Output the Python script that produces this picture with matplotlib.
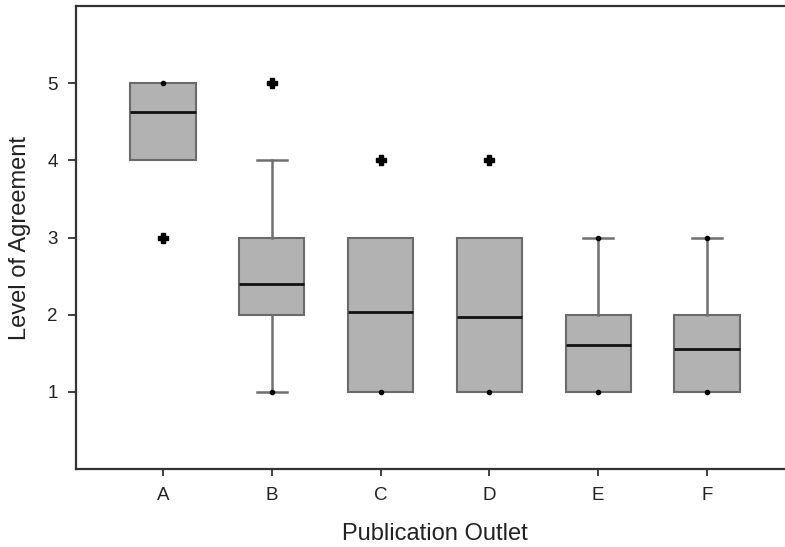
import matplotlib.pyplot as plt

plt.rcParams['font.family'] = ['Liberation Sans', 'DejaVu Sans']

# values
outlets = ['A', 'B', 'C', 'D', 'E', 'F']
medians = [4.63, 2.40, 2.04, 1.97, 1.61, 1.56]
q1 = [4, 2, 1, 1, 1, 1]
q3 = [5, 3, 3, 3, 2, 2]
whisker_low = [4, 1, 1, 1, 1, 1]
whisker_high = [5, 4, 3, 3, 3, 3]
outliers = [[3], [5], [4], [4], [], []]
end_points = [[5], [1], [1], [1], [1, 3], [1, 3]]

positions = list(range(1, len(outlets) + 1))

stats = []
for i, name in enumerate(outlets):
    stats.append({
        'label': name,
        'med': medians[i],
        'q1': q1[i],
        'q3': q3[i],
        'whislo': whisker_low[i],
        'whishi': whisker_high[i],
        'fliers': [],
    })

fig = plt.figure(figsize=(7.85, 5.47), dpi=100)
ax = fig.add_axes([76 / 785, 78 / 547, 718 / 785, 463 / 547])

bp = ax.bxp(
    stats,
    positions=positions,
    widths=0.6,
    patch_artist=True,
    showfliers=False,
    boxprops=dict(facecolor='#b2b2b2', edgecolor='#6a6a6a', linewidth=1.5),
    medianprops=dict(color='#111111', linewidth=2),
    whiskerprops=dict(color='#707070', linewidth=1.8),
    capprops=dict(color='#707070', linewidth=1.8),
    capwidths=0.28,
)

# SigmaPlot style: no cap where the whisker does not leave the box
for i in range(len(outlets)):
    if whisker_low[i] == q1[i]:
        bp['caps'][2 * i].set_visible(False)
        bp['whiskers'][2 * i].set_visible(False)
    if whisker_high[i] == q3[i]:
        bp['caps'][2 * i + 1].set_visible(False)
        bp['whiskers'][2 * i + 1].set_visible(False)

for i, pos in enumerate(positions):
    if outliers[i]:
        ax.plot([pos] * len(outliers[i]), outliers[i], linestyle='none',
                marker='P', markersize=6.5, color='black', zorder=4)
    ax.plot([pos] * len(end_points[i]), end_points[i], linestyle='none',
            marker='o', markersize=3, color='black', zorder=4)

ax.set_xlim(0.2, 6.8)
ax.set_ylim(0, 6)
ax.set_yticks([1, 2, 3, 4, 5])
ax.set_xticks(positions)
ax.set_xticklabels(outlets)

ax.spines['right'].set_visible(False)
for side in ['left', 'bottom', 'top']:
    ax.spines[side].set_linewidth(1.6)
    ax.spines[side].set_color('#333333')

ax.tick_params(axis='y', direction='out', length=6, width=1.3, colors='#333333',
               labelsize=13.5, pad=7, labelcolor='#222222')
ax.tick_params(axis='x', direction='out', length=5, width=1.3, colors='#333333',
               labelsize=13.5, pad=8, labelcolor='#222222')

ax.set_xlabel('Publication Outlet', fontsize=17, color='#222222', labelpad=14)
ax.set_ylabel('Level of Agreement', fontsize=17, color='#222222', labelpad=12)

plt.savefig('out.png', dpi=100)
